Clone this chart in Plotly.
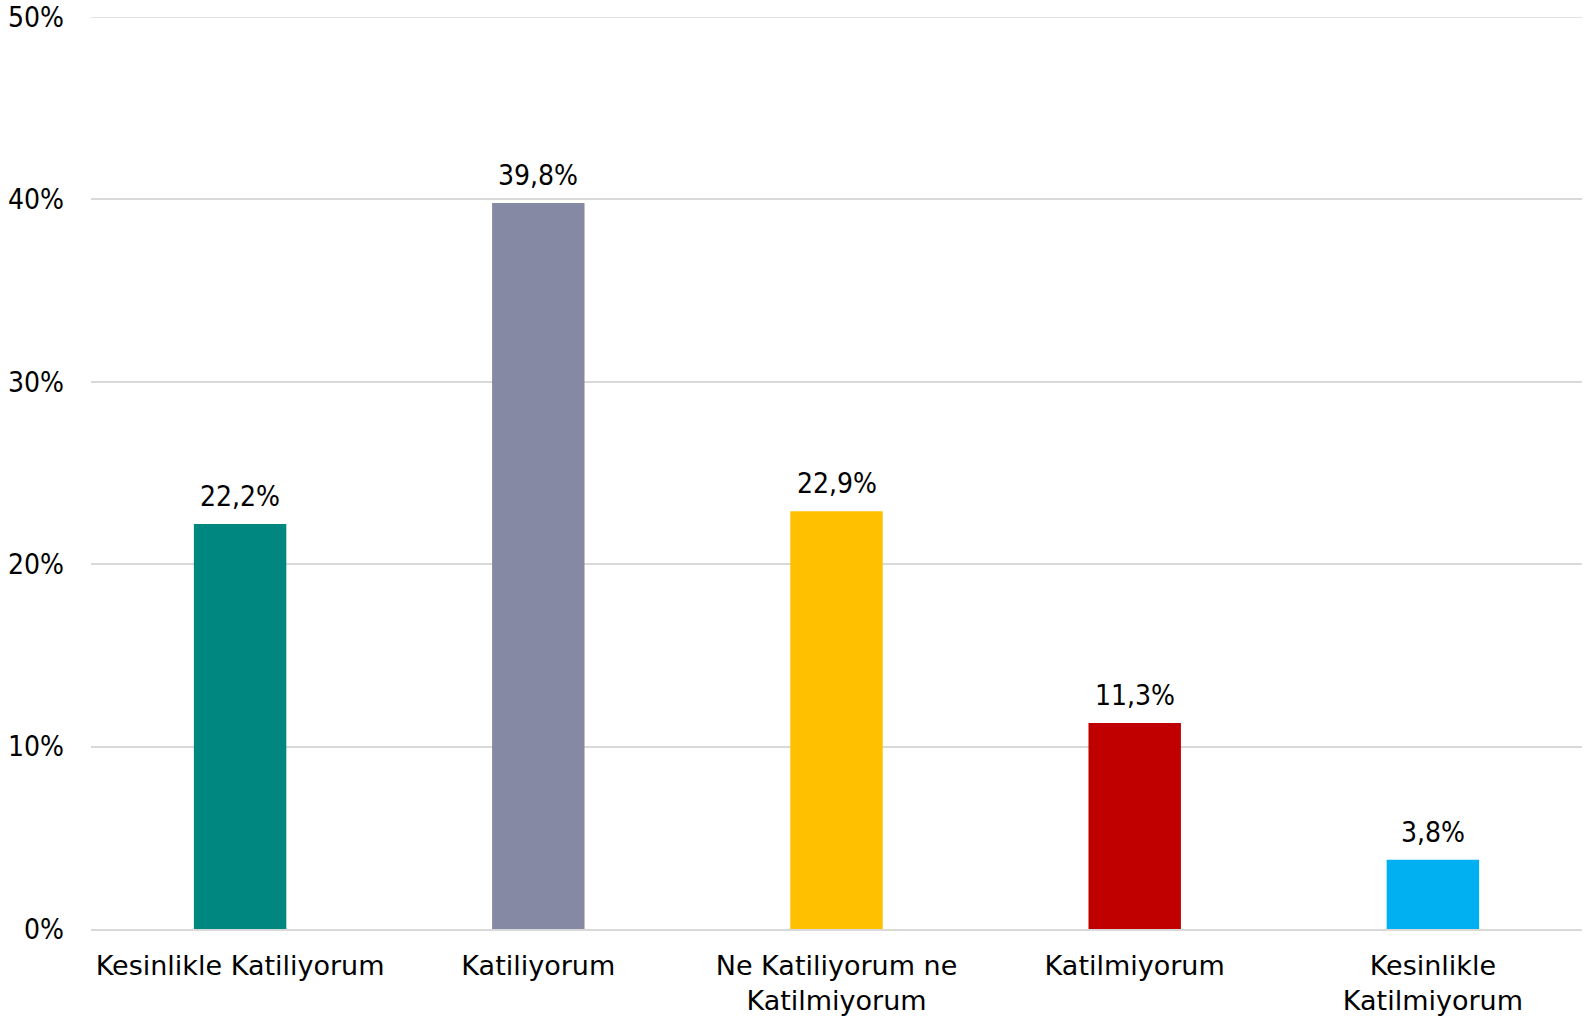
import plotly.graph_objects as go

categories = ["Kesinlikle Katiliyorum", "Katiliyorum", "Ne Katiliyorum ne<br>Katilmiyorum",
              "Katilmiyorum", "Kesinlikle<br>Katilmiyorum"]
values = [22.2, 39.8, 22.9, 11.3, 3.8]
colors = ["#00877F", "#8589A3", "#FFC000", "#C00000", "#00B0F0"]
y_ticks = [0, 10, 20, 30, 40, 50]
y_tick_labels = ["0%", "10%", "20%", "30%", "40%", "50%"]

FONT = "'DejaVu Sans', sans-serif"
NUM_FONT = "'DejaVu Sans Condensed', 'DejaVu Sans', sans-serif"
FS = 27
NFS = 28

fig = go.Figure()
fig.add_trace(go.Bar(x=categories, y=values, marker_color=colors, marker_line_width=0,
                     hoverinfo="skip"))

for c, v in zip(categories, values):
    fig.add_annotation(x=c, y=v, text=f"{v:.1f}%".replace(".", ","), showarrow=False,
                       yanchor="bottom", yshift=9, font=dict(size=NFS, color="#000000", family=NUM_FONT))

# top gridline at the edge of the range
fig.add_shape(type="line", xref="paper", yref="y", x0=0, x1=1, y0=y_ticks[-1], y1=y_ticks[-1],
              line=dict(color="#D9D9D9", width=1.5), layer="below")

fig.update_layout(
    width=1587, height=1016,
    margin=dict(l=91, r=5, t=17, b=87),
    paper_bgcolor="white", plot_bgcolor="white",
    bargap=0.69, showlegend=False,
    font=dict(family=FONT, size=FS, color="#000000"),
)
fig.update_yaxes(range=[0, 50], tickvals=y_ticks, ticktext=y_tick_labels, automargin=False,
                 showgrid=True, gridcolor="#D9D9D9", gridwidth=1.5, ticklabeloverflow="allow",
                 zeroline=False, showline=False, ticks="", ticklabelstandoff=26,
                 tickfont=dict(size=NFS, family=NUM_FONT))
fig.update_xaxes(showline=True, linecolor="#D9D9D9", linewidth=1.5, ticks="", automargin=False,
                 ticklabelstandoff=12, tickfont=dict(size=FS, family=FONT))

fig.write_html("out.html", config={"displayModeBar": False},
               post_script="document.body.style.margin='0px';")
